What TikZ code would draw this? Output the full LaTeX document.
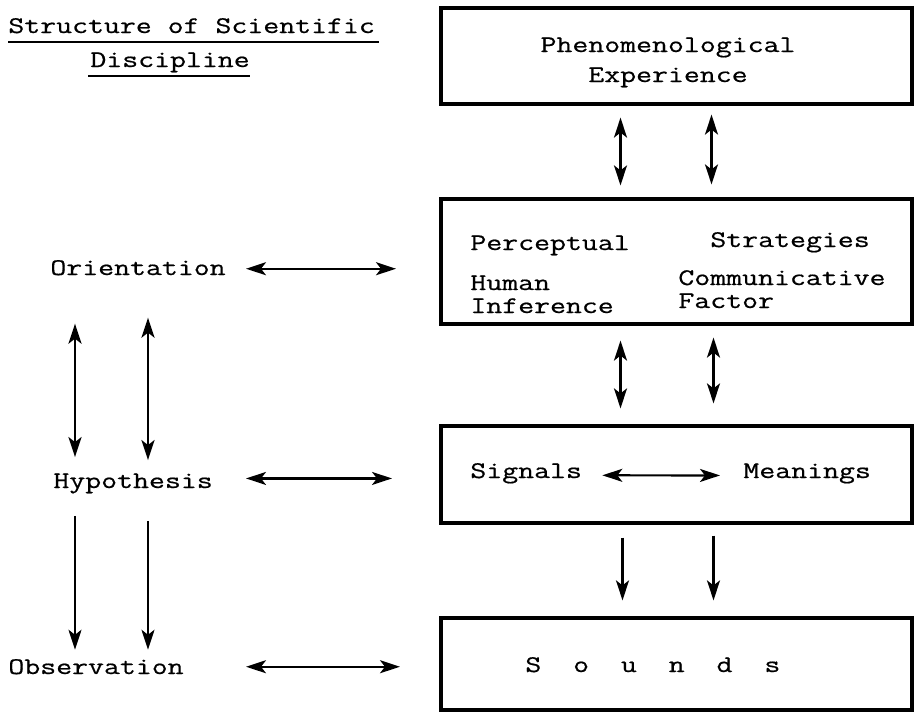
\documentclass[tikz,border=0pt]{standalone}
\usepackage{fontspec}
\setmonofont[FakeStretch=1.3,FakeBold=0.6]{Latin Modern Mono}
\usepackage{tikz}
\usetikzlibrary{arrows.meta,positioning,calc}

\begin{document}
\begin{tikzpicture}[x=0.5pt,y=-0.5pt,
    >={Stealth[length=10pt,width=6.5pt,inset=2.5pt]},
    txt/.style={anchor=base west,inner sep=0pt,font=\ttfamily\fontsize{11.9}{14}\selectfont},
    ctxt/.style={txt,anchor=base},
    box/.style={draw,line width=1.6pt,minimum width=235.5pt,inner sep=0pt},
    dbl/.style={<->,line width=1.1pt},
    one/.style={->,line width=1.1pt},
    uline/.style={line width=1pt}]
    \useasboundingbox (0,0) rectangle (916,712);

    % Title
    \node[txt] (title1) at (8,33) {Structure of Scientific};
    \node[txt] (title2) at (90,67) {Discipline};
    \draw[uline] ($(title1.base west)+(0,9)$) -- ($(title1.base east)+(4,9)$);
    \draw[uline] ($(title2.base west)+(-2,9)$) -- ($(title2.base east)+(0,9)$);

    % Boxes on the right
    \node[box,minimum height=48pt] (phenom) at (676.5,56) {};
    \node[box,minimum height=62.5pt] (strat) at (676.5,261.5) {};
    \node[box,minimum height=48.5pt] (signal) at (676.5,474.5) {};
    \node[box,minimum height=46pt] (sound) at (676.5,664) {};

    % Box texts
    \node[ctxt] (phen1) at (668,52) {Phenomenological};
    \node[ctxt] (phen2) at (668,82) {Experience};
    \node[txt] (percep) at (470,250) {Perceptual};
    \node[txt] (strateg) at (710,247) {Strategies};
    \node[txt] (human) at (470,290) {Human};
    \node[txt] (infer) at (470,313) {Inference};
    \node[txt] (commun) at (678,285) {Communicative};
    \node[txt] (factor) at (678,308) {Factor};
    \node[txt] (signals) at (470,478) {Signals};
    \node[txt] (meanings) at (743,478) {Meanings};
    \node[txt] (sounds) at (525,672) {S\ \ o\ \ u\ \ n\ \ d\ \ s};
    \draw[dbl] ($(signals.east)+(20,2)$) -- ($(meanings.west)+(-23,2)$);

    % Arrows between the boxes
    \draw[dbl] ($(phenom.south)+(-56,12)$) -- ($(strat.north)+(-56,-12)$);
    \draw[dbl] ($(phenom.south)+(35,9)$) -- ($(strat.north)+(35,-13)$);
    \draw[dbl] ($(strat.south)+(-56,15)$) -- ($(signal.north)+(-56,-16)$);
    \draw[dbl] ($(strat.south)+(37,12)$) -- ($(signal.north)+(37,-21)$);
    \draw[one] ($(signal.south)+(-54,13)$) -- ($(sound.north)+(-54,-16)$);
    \draw[one] ($(signal.south)+(37,11)$) -- ($(sound.north)+(37,-16)$);

    % Left column
    \node[txt] (orient) at (50,275) {Orientation};
    \node[txt] (hypo) at (53,488) {Hypothesis};
    \node[txt] (obs) at (8,674) {Observation};
    \coordinate (la) at (246,0);
    \coordinate (ra) at (396,0);
    \coordinate (c1) at (75,0);
    \coordinate (c2) at (148,0);
    \draw[dbl] ($(la|-orient)+(0,1)$) -- ($(ra|-orient)+(0,1)$);
    \draw[dbl] ($(la|-hypo)+(0,-5)$) -- ($(ra|-hypo)+(-4,-5)$);
    \draw[dbl] (la|-obs) -- ($(ra|-obs)+(4,0)$);
    \draw[dbl] ($(c1|-orient.south)+(0,48)$) -- ($(c1|-hypo.north)+(0,-16)$);
    \draw[dbl] ($(c2|-orient.south)+(0,42)$) -- ($(c2|-hypo.north)+(0,-13)$);
    \draw[one] ($(c1|-hypo.south)+(0,22)$) -- ($(c1|-obs.north)+(0,-9)$);
    \draw[one] ($(c2|-hypo.south)+(0,27)$) -- ($(c2|-obs.north)+(0,-9)$);
\end{tikzpicture}
\end{document}
